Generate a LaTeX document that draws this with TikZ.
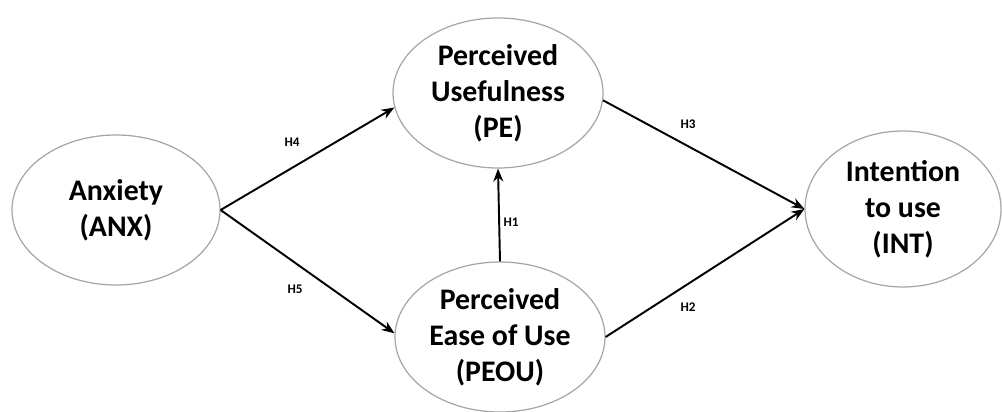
\documentclass[tikz,border=0pt]{standalone}
\usepackage{fontspec}
\setmainfont{Carlito}
\usetikzlibrary{shapes.geometric,arrows.meta}

\begin{document}
\begin{tikzpicture}[construct/.style={ellipse, draw=black!35, line width=0.7pt, align=center,
      font=\fontsize{17}{20.5}\selectfont\bfseries, inner sep=0pt},
    hyp/.style={font=\fontsize{7.5}{8}\selectfont\bfseries, inner sep=1pt},
    path/.style={-{Stealth[length=2.6mm,width=2mm]}, line width=1.1pt}]
\useasboundingbox (0,0) rectangle (20.04,8.24);

\node[construct, minimum width=4.16cm, minimum height=3.0cm] (anx) at (2.32,4.04) {Anxiety\\(ANX)};
\node[construct, minimum width=4.2cm, minimum height=3.0cm] (pe) at (9.96,6.38) {Perceived\\Usefulness\\(PE)};
\node[construct, minimum width=4.2cm, minimum height=3.0cm] (peou) at (10.0,1.5) {Perceived\\Ease of Use\\(PEOU)};
\node[construct, minimum width=3.92cm, minimum height=3.12cm] (int) at (18.06,4.06) {Intention\\to use\\(INT)};

\node[hyp] (h4) at (5.84,5.4) {H4};
\node[hyp] (h5) at (5.9,2.46) {H5};
\node[hyp] (h1) at (10.22,3.8) {H1};
\node[hyp] (h3) at (13.76,5.76) {H3};
\node[hyp] (h2) at (13.76,2.1) {H2};

\draw[path] (anx.east) -- (pe.188);
\draw[path] (anx.east) -- (peou.178);
\draw[path] (peou.north) -- (pe.south);
\draw[path] (pe.356) -- (int.west);
\draw[path] (peou.east) -- (int.west);
\end{tikzpicture}
\end{document}
